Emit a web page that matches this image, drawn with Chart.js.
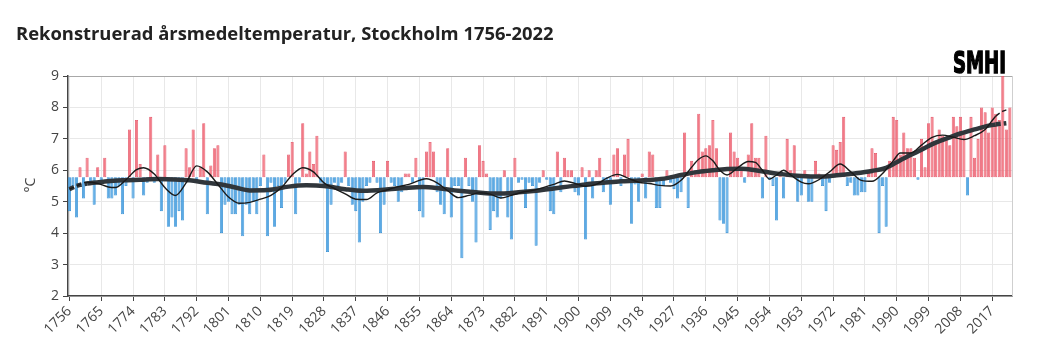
<!DOCTYPE html>
<html><head><meta charset="utf-8">
<script src="https://cdn.jsdelivr.net/npm/chart.js@4/dist/chart.umd.min.js"></script>
<style>html,body{margin:0;padding:0;background:#fff;}canvas{display:block;}</style>
</head><body>
<canvas id="c" width="1038" height="364"></canvas>
<script>
const TITLE = 'Rekonstruerad årsmedeltemperatur, Stockholm 1756-2022';
const Y_TITLE = '°C';
const LOGO = 'SMHI';
const FIRST_YEAR = 1756;
const BASELINE = 5.78;

// annual mean temperature, 1756-2022
const temps = [
  4.7,5.5,4.5,6.1,5.1,6.4,5.6,4.9,6.1,5.6,   // 1756
  6.4,5.1,5.1,5.2,5.5,4.6,5.5,7.3,5.1,7.6,   // 1766
  6.2,5.2,5.6,7.7,5.6,6.5,4.7,6.8,4.2,4.5,   // 1776
  4.2,4.7,4.4,6.7,6.1,7.3,5.6,6.1,7.5,4.6,   // 1786
  6.15,6.7,6.8,4.0,4.9,5.0,4.6,4.6,4.9,3.9,  // 1796
  4.9,4.6,5.0,4.6,5.5,6.5,3.9,5.6,4.2,5.5,   // 1806
  4.8,5.6,6.5,6.9,4.6,5.6,7.5,5.9,6.6,6.2,   // 1816
  7.1,5.6,5.5,3.4,4.9,5.6,5.5,5.6,6.6,5.5,   // 1826
  4.9,4.7,3.7,5.0,5.5,5.6,6.3,5.6,4.0,4.9,   // 1836
  6.3,5.6,5.5,5.0,5.3,5.9,5.9,5.6,6.4,4.7,   // 1846
  4.5,6.6,6.9,6.6,5.3,4.9,4.6,6.7,4.5,5.5,   // 1856
  5.5,3.2,6.4,5.5,5.0,3.7,6.8,6.3,5.9,4.1,   // 1866
  4.7,4.5,5.1,6.0,4.5,3.8,6.4,5.6,5.7,4.8,   // 1876
  5.6,5.5,3.6,5.6,6.0,5.7,4.7,4.6,6.6,5.3,   // 1886
  6.4,6.0,6.0,5.3,5.2,6.1,3.8,6.0,5.1,6.0,   // 1896
  6.4,5.3,5.6,4.9,6.5,6.7,5.5,6.5,7.0,4.3,   // 1906
  5.55,5.0,5.9,5.1,6.6,6.5,4.8,4.8,5.5,6.0,  // 1916
  5.6,5.4,5.1,5.3,7.2,4.8,6.3,6.0,7.8,6.6,   // 1926
  6.7,6.8,7.6,6.7,4.4,4.3,4.0,7.2,6.6,6.4,   // 1936
  6.1,5.6,6.5,7.5,6.4,6.4,5.1,7.1,5.7,5.5,   // 1946
  4.4,5.9,5.1,7.0,6.0,6.8,5.0,5.2,6.0,5.0,   // 1956
  5.0,6.3,5.9,5.5,4.7,5.6,6.8,6.65,6.9,7.7,  // 1966
  5.5,5.6,5.2,5.2,5.3,5.3,6.0,6.7,6.55,4.0,  // 1976
  5.5,4.2,6.3,7.7,7.6,6.5,7.2,6.7,6.7,6.4,   // 1986
  5.7,7.0,6.1,7.5,7.7,6.9,7.3,7.1,7.0,6.8,   // 1996
  7.7,7.4,7.7,7.2,5.2,7.7,6.4,7.0,8.0,7.85,  // 2006
  7.2,8.0,7.8,7.6,9.0,7.3,8.0                // 2016
];
const years = temps.map((_, i) => FIRST_YEAR + i);

// thin smoothed curve
const thinYears = [1756,1758,1761,1764,1767,1769,1772,1775,1777,1780,1783,1786,1789,1792,1795,1798,1801,1804,1807,1810,1813,1816,1819,1822,1825,1828,1831,1834,1837,1840,1843,1846,1849,1852,1855,1857,1860,1863,1866,1869,1872,1875,1878,1881,1884,1887,1890,1893,1896,1899,1902,1905,1908,1911,1914,1917,1920,1923,1926,1929,1932,1934,1936,1938,1940,1942,1945,1948,1950,1952,1954,1956,1958,1960,1963,1965,1968,1971,1974,1977,1980,1983,1986,1989,1991,1994,1997,2000,2003,2006,2009,2012,2015,2018,2020,2021];
const thinVals  = [5.40,5.50,5.62,5.58,5.47,5.45,5.70,6.02,6.08,5.88,5.45,5.20,5.60,6.14,5.95,5.55,5.15,4.95,4.98,5.08,5.20,5.45,5.85,6.08,5.95,5.60,5.42,5.25,5.08,5.07,5.28,5.38,5.48,5.55,5.68,5.73,5.60,5.35,5.13,5.20,5.28,5.24,5.12,5.20,5.30,5.36,5.45,5.55,5.66,5.58,5.49,5.55,5.75,5.87,5.75,5.62,5.58,5.52,5.50,5.68,6.10,6.35,6.46,6.30,6.00,5.85,6.08,6.28,6.25,6.00,5.72,5.85,6.00,5.85,5.62,5.57,5.70,5.95,6.20,5.95,5.68,5.65,5.90,6.30,6.55,6.55,6.80,7.05,7.12,7.05,6.98,7.10,7.30,7.72,7.88,7.92];

// thick smoothed curve
const thickYears = [1756,1758,1761,1766,1771,1776,1781,1786,1790,1795,1799,1803,1807,1812,1818,1823,1828,1834,1839,1845,1851,1856,1861,1866,1871,1877,1883,1888,1893,1897,1902,1907,1912,1916,1921,1925,1929,1934,1938,1942,1946,1950,1954,1958,1963,1968,1973,1978,1983,1987,1991,1996,2001,2005,2008,2012,2016,2018,2021];
const thickVals  = [5.40,5.50,5.58,5.64,5.68,5.70,5.72,5.71,5.68,5.60,5.55,5.45,5.36,5.37,5.48,5.52,5.50,5.40,5.35,5.38,5.44,5.47,5.42,5.35,5.30,5.26,5.30,5.35,5.42,5.48,5.55,5.60,5.65,5.67,5.70,5.75,5.85,5.95,6.00,6.04,6.05,6.00,5.93,5.87,5.82,5.80,5.84,5.90,5.98,6.08,6.32,6.60,6.88,7.05,7.17,7.30,7.42,7.46,7.50];

const xTickYears = [1756,1765,1774,1783,1792,1801,1810,1819,1828,1837,1846,1855,1864,1873,1882,1891,1900,1909,1918,1927,1936,1945,1954,1963,1972,1981,1990,1999,2008,2017];
const yTickVals = [2,3,4,5,6,7,8,9];

const RED_FILL = 'rgba(242,106,120,0.9)', RED_LINE = '#e4566a';
const BLUE_FILL = 'rgba(82,165,228,0.95)', BLUE_LINE = '#3690d4';
const FONT = '"Open Sans", "DejaVu Sans", sans-serif';

const dashEnds = ctx => (ctx.p0.parsed.x < 1761 || ctx.p1.parsed.x > 2018) ? [5,3] : undefined;

const decor = {
  id: 'decor',
  afterDraw(chart) {
    const c = chart.ctx, a = chart.chartArea;
    c.save();
    c.strokeStyle = '#cfcfcf'; c.lineWidth = 1;
    c.beginPath(); c.moveTo(a.right + 0.5, a.top); c.lineTo(a.right + 0.5, a.bottom); c.stroke();
    c.fillStyle = '#222'; c.font = 'bold 18.4px ' + FONT; c.textBaseline = 'alphabetic'; c.textAlign = 'left';
    c.fillText(TITLE, 16, 40);
    c.save(); c.translate(31, 185); c.rotate(-Math.PI/2);
    c.font = '14px ' + FONT; c.fillStyle = '#444'; c.textAlign = 'center'; c.textBaseline = 'middle';
    c.fillText(Y_TITLE, 0, 0); c.restore();
    c.save();
    c.font = 'bold 30px "DejaVu Sans", sans-serif';
    const w = c.measureText(LOGO).width;
    c.translate(953, 73); c.scale(53 / w, 1);
    c.fillStyle = '#000'; c.textBaseline = 'alphabetic'; c.textAlign = 'left';
    c.lineWidth = 1.5; c.strokeStyle = '#000';
    c.fillText(LOGO, 0, 0); c.strokeText(LOGO, 0, 0);
    c.restore();
    c.restore();
  }
};

new Chart(document.getElementById('c'), {
  data: {
    datasets: [
      {
        type: 'line', label: 'thin', order: 1,
        data: thinYears.map((y, i) => ({x: y, y: thinVals[i]})),
        borderColor: '#1b1b1b', borderWidth: 1.4, pointRadius: 0,
        tension: 0.4, cubicInterpolationMode: 'monotone', fill: false,
        segment: { borderDash: dashEnds }
      },
      {
        type: 'line', label: 'thick', order: 2,
        data: thickYears.map((y, i) => ({x: y, y: thickVals[i]})),
        borderColor: '#30363b', borderWidth: 4.5, pointRadius: 0,
        tension: 0.4, cubicInterpolationMode: 'monotone', fill: false,
        segment: { borderDash: dashEnds }
      },
      {
        type: 'bar', label: 'temp', order: 3,
        data: years.map((y, i) => ({x: y, y: [BASELINE, temps[i]]})),
        backgroundColor: ctx => (ctx.raw && ctx.raw.y[1] >= BASELINE) ? RED_FILL : BLUE_FILL,
        borderColor: ctx => (ctx.raw && ctx.raw.y[1] >= BASELINE) ? RED_LINE : BLUE_LINE,
        borderWidth: 0.8, borderSkipped: false,
        barPercentage: 0.88, categoryPercentage: 1
      }
    ]
  },
  options: {
    responsive: false, animation: false, devicePixelRatio: 1,
    layout: { padding: { left: 0, top: 76, right: 26, bottom: 0 } },
    plugins: { legend: { display: false }, tooltip: { enabled: false }, title: { display: false } },
    scales: {
      x: {
        type: 'linear', min: 1755.6, max: 2022.6, offset: false,
        afterFit: s => { s.height = 68; },
        afterBuildTicks: s => { s.ticks = xTickYears.map(v => ({value: v})); },
        grid: { offset: false, color: '#e8e8e8', tickColor: '#444', tickLength: 5, drawTicks: true },
        border: { color: '#444', width: 1.5 },
        ticks: { autoSkip: false, minRotation: 45, maxRotation: 45, padding: 2,
                 color: '#444', font: { family: FONT, size: 14 }, callback: v => String(v) }
      },
      y: {
        min: 2, max: 9,
        afterFit: s => { s.width = 68; },
        afterBuildTicks: s => { s.ticks = yTickVals.map(v => ({value: v})); },
        grid: { color: ctx => (ctx.tick && ctx.tick.value === 9) ? '#a8a8a8' : '#e8e8e8', tickColor: '#444', tickLength: 5 },
        border: { color: '#444', width: 1.5 },
        ticks: { padding: 4, color: '#444', font: { family: FONT, size: 14 } }
      }
    }
  },
  plugins: [decor]
});
</script>
</body></html>
